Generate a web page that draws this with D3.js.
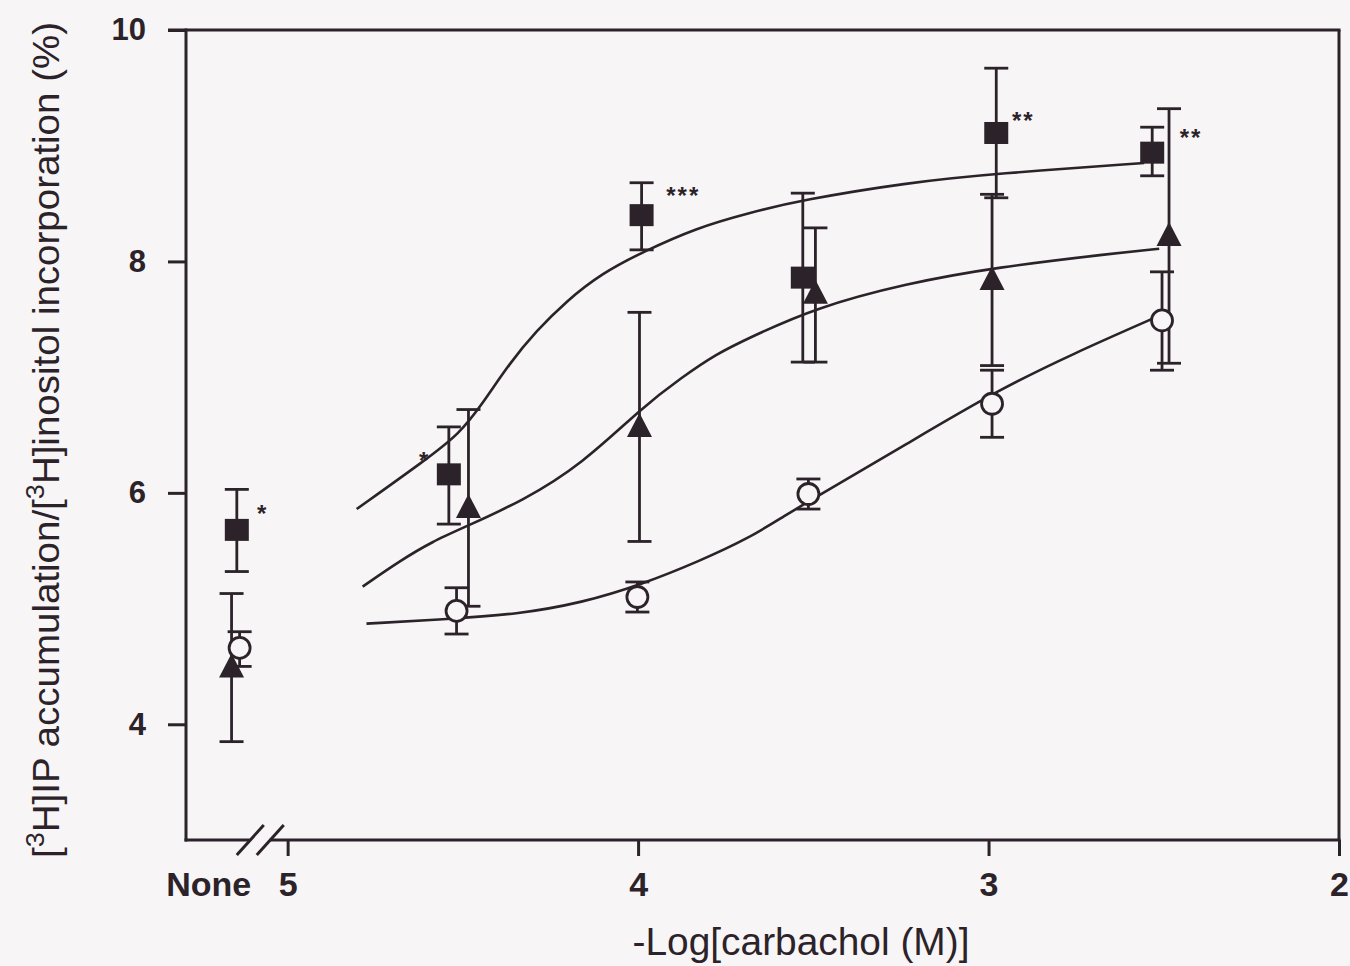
<!DOCTYPE html>
<html><head><meta charset="utf-8">
<script src="https://cdn.jsdelivr.net/npm/d3@7"></script>
<style>html,body{margin:0;padding:0;background:#f8f5f6;} svg{display:block;}</style>
</head><body><svg id="chart" width="1350" height="966"></svg>
<script>
// ---------------- data ----------------
// x values are -log[carbachol (M)]; the "None" group sits left of the axis break
const xTickValues = [5, 4, 3, 2];
const xTickLabels = ["5", "4", "3", "2"];
const yTickValues = [4, 6, 8, 10];
const yTickLabels = ["4", "6", "8", "10"];
const noneLabel = "None";
const noneLabelPos = 5.225;
const breakPos = [5.108, 5.051];

// filled squares
const squareX  = [5.145, 4.54, 3.99, 3.53, 2.978, 2.533];
const squareY  = [5.68, 6.16, 8.40, 7.86, 9.11, 8.94];
const squareLo = [5.32, 5.73, 8.10, 7.13, 8.55, 8.74];
const squareHi = [6.03, 6.57, 8.68, 8.59, 9.67, 9.16];

// filled triangles
const triX  = [5.16, 4.484, 3.996, 3.494, 2.99, 2.485];
const triY  = [4.49, 5.87, 6.57, 7.72, 7.84, 8.22];
const triLo = [3.85, 5.02, 5.58, 7.13, 7.10, 7.12];
const triHi = [5.13, 6.72, 7.56, 8.29, 8.58, 9.32];

// open circles
const circX  = [5.137, 4.518, 4.002, 3.514, 2.99, 2.505];
const circY  = [4.66, 4.98, 5.10, 5.99, 6.77, 7.49];
const circLo = [4.50, 4.78, 4.97, 5.86, 6.48, 7.06];
const circHi = [4.80, 5.18, 5.23, 6.12, 7.06, 7.91];

// fitted curves
const curveSqX = [4.803, 4.604, 4.510, 4.444, 4.367, 4.290, 4.204, 4.102, 3.988, 3.834, 3.683, 3.534, 3.235, 2.978, 2.556];
const curveSqY = [5.86, 6.29, 6.51, 6.77, 7.12, 7.40, 7.66, 7.90, 8.08, 8.29, 8.42, 8.53, 8.68, 8.76, 8.85];
const curveTrX = [4.786, 4.681, 4.587, 4.490, 4.330, 4.159, 3.988, 3.874, 3.777, 3.683, 3.494, 3.235, 2.978, 2.642, 2.513];
const curveTrY = [5.19, 5.41, 5.58, 5.71, 5.93, 6.25, 6.74, 7.00, 7.20, 7.34, 7.60, 7.81, 7.95, 8.07, 8.11];
const curveCiX = [4.775, 4.538, 4.347, 4.159, 3.988, 3.825, 3.683, 3.583, 3.483, 3.235, 2.978, 2.761, 2.513];
const curveCiY = [4.87, 4.91, 4.95, 5.05, 5.21, 5.41, 5.61, 5.80, 5.98, 6.42, 6.88, 7.20, 7.53];

// significance marks
const starX = [5.071, 4.609, 3.871, 2.901, 2.422];
const starY = [5.86, 6.32, 8.61, 9.26, 9.11];
const starText = ["*", "*", "***", "**", "**"];

const xTitle = "-Log[carbachol (M)]";

// ---------------- layout ----------------
const ink = "#2b2329";
const bg = "#f8f5f6";
const font = "'Liberation Sans', Arial, Helvetica, sans-serif";
const svg = d3.select("#chart");
const mLeft = 186, mTop = 30, width = 1153, height = 810;

const x = d3.scaleLinear().domain([5.29, 2.0]).range([0, width]);
const y = d3.scaleLinear().domain([3, 10]).range([height, 0]);

svg.append("rect").attr("width", 1350).attr("height", 966).attr("fill", bg);
const g = svg.append("g").attr("transform", `translate(${mLeft},${mTop})`);

// y axis
const yAxis = g.append("g").call(
  d3.axisLeft(y).tickValues(yTickValues).tickFormat((d, i) => yTickLabels[i]).tickSize(18).tickPadding(22)
);
yAxis.select(".domain").remove();
yAxis.selectAll("line").attr("stroke", ink).attr("stroke-width", 3);
yAxis.selectAll("text").attr("fill", ink).attr("font-family", font).attr("font-weight", "bold").attr("font-size", 31);

// x axis
const xAxis = g.append("g").attr("transform", `translate(0,${height})`).call(
  d3.axisBottom(x).tickValues(xTickValues).tickFormat((d, i) => xTickLabels[i]).tickSize(16).tickPadding(16)
);
xAxis.select(".domain").remove();
xAxis.selectAll("line").attr("stroke", ink).attr("stroke-width", 3);
xAxis.selectAll("text").attr("fill", ink).attr("font-family", font).attr("font-weight", "bold").attr("font-size", 34);
xAxis.append("text").attr("x", x(noneLabelPos)).attr("y", 32).attr("dy", "0.71em")
  .attr("text-anchor", "middle").attr("fill", ink).attr("font-family", font)
  .attr("font-weight", "bold").attr("font-size", 34).text(noneLabel);

// frame lines
const frame = g.append("g").attr("stroke", ink).attr("stroke-width", 3).attr("fill", "none");
frame.append("line").attr("x1", 0).attr("x2", 0).attr("y1", -1.5).attr("y2", height + 1.5);
frame.append("line").attr("x1", -18).attr("x2", x(2) + 1.5).attr("y1", 0).attr("y2", 0);
frame.append("line").attr("x1", x(2)).attr("x2", x(2)).attr("y1", 0).attr("y2", height);
const brkA = x(breakPos[0]), brkB = x(breakPos[1]);
frame.append("line").attr("x1", -1.5).attr("x2", brkA).attr("y1", height).attr("y2", height);
frame.append("line").attr("x1", brkB).attr("x2", x(2) + 1.5).attr("y1", height).attr("y2", height);
[brkA, brkB].forEach(bx => {
  frame.append("line").attr("x1", bx - 13).attr("y1", height + 15)
    .attr("x2", bx + 14).attr("y2", height - 15);
});

// curves
const line = d3.line().x(d => x(d[0])).y(d => y(d[1])).curve(d3.curveBasis);
[[curveSqX, curveSqY], [curveTrX, curveTrY], [curveCiX, curveCiY]].forEach(([cx, cy]) => {
  g.append("path").datum(cx.map((v, i) => [v, cy[i]]))
    .attr("d", line).attr("fill", "none").attr("stroke", ink).attr("stroke-width", 2.6);
});

// error bars
function errorBars(xs, lo, hi) {
  const eb = g.append("g").attr("stroke", ink).attr("stroke-width", 2.8);
  xs.forEach((xv, i) => {
    const px = x(xv);
    eb.append("line").attr("x1", px).attr("x2", px).attr("y1", y(lo[i])).attr("y2", y(hi[i]));
    eb.append("line").attr("x1", px - 12).attr("x2", px + 12).attr("y1", y(lo[i])).attr("y2", y(lo[i]));
    eb.append("line").attr("x1", px - 12).attr("x2", px + 12).attr("y1", y(hi[i])).attr("y2", y(hi[i]));
  });
}
errorBars(squareX, squareLo, squareHi);
errorBars(triX, triLo, triHi);
errorBars(circX, circLo, circHi);

// markers
g.append("g").selectAll("rect").data(squareX).join("rect")
  .attr("x", (d) => x(d) - 12).attr("y", (d, i) => y(squareY[i]) - 11)
  .attr("width", 24).attr("height", 22).attr("fill", ink);

g.append("g").selectAll("path").data(triX).join("path")
  .attr("transform", (d, i) => `translate(${x(d)},${y(triY[i])})`)
  .attr("d", "M0,-14 L12.5,10 L-12.5,10 Z").attr("fill", ink);

g.append("g").selectAll("circle").data(circX).join("circle")
  .attr("cx", d => x(d)).attr("cy", (d, i) => y(circY[i])).attr("r", 10.5)
  .attr("fill", bg).attr("stroke", ink).attr("stroke-width", 2.8);

// stars
g.append("g").selectAll("text").data(starX).join("text")
  .attr("x", d => x(d)).attr("y", (d, i) => y(starY[i]) + 13)
  .attr("text-anchor", "middle").attr("font-family", font).attr("font-weight", "bold")
  .attr("font-size", 24).attr("letter-spacing", 2).attr("fill", ink)
  .text((d, i) => starText[i]);

// axis titles
svg.append("text").attr("x", 801).attr("y", 955).attr("text-anchor", "middle")
  .attr("font-family", font).attr("font-size", 38).attr("fill", ink)
  .attr("textLength", 337).attr("lengthAdjust", "spacingAndGlyphs").text(xTitle);

const yt = svg.append("text").attr("transform", "translate(59,440) rotate(-90)")
  .attr("text-anchor", "middle").attr("font-family", font).attr("font-size", 37).attr("fill", ink)
  .attr("textLength", 836).attr("lengthAdjust", "spacingAndGlyphs");
yt.append("tspan").text("[");
yt.append("tspan").attr("baseline-shift", "super").attr("font-size", 26).text("3");
yt.append("tspan").text("H]IP accumulation/[");
yt.append("tspan").attr("baseline-shift", "super").attr("font-size", 26).text("3");
yt.append("tspan").text("H]inositol incorporation (%)");
</script></body></html>
